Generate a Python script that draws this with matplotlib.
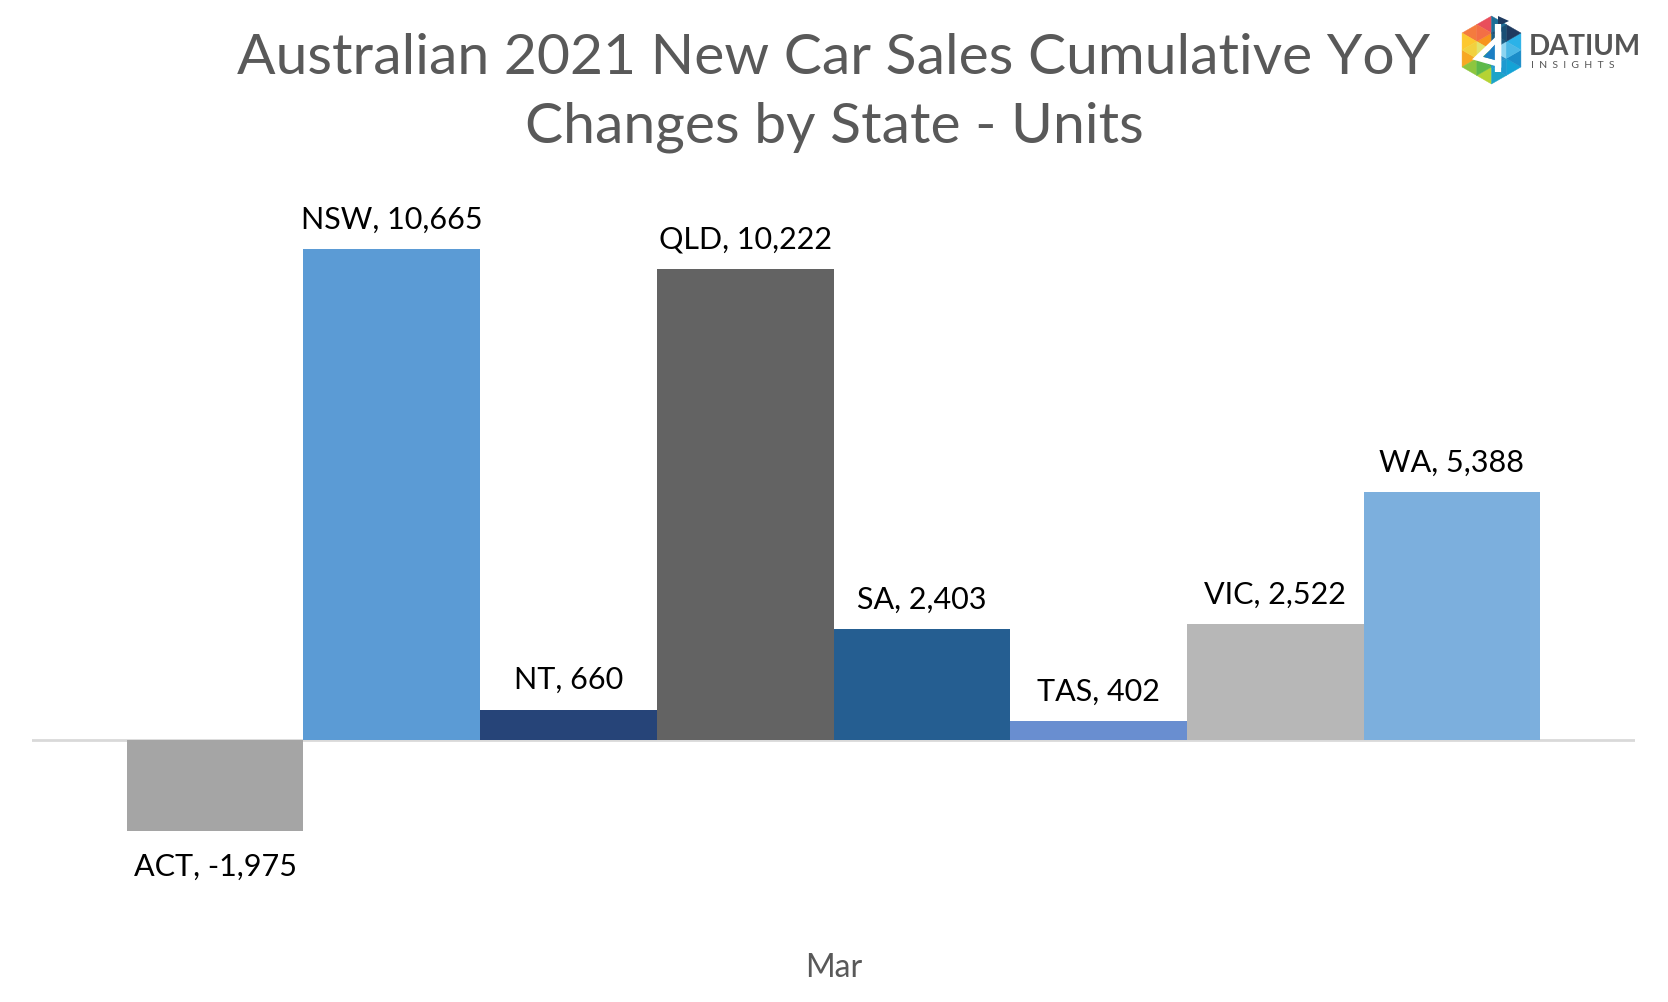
import matplotlib
matplotlib.use("Agg")
from matplotlib import pyplot as plt
from matplotlib.patches import Polygon
import numpy as np

# --- data ---
states = ["ACT", "NSW", "NT", "QLD", "SA", "TAS", "VIC", "WA"]
changes = [-1975, 10665, 660, 10222, 2403, 402, 2522, 5388]
category = "Mar"
colores = ["#A5A5A5", "#5B9BD5", "#264478", "#636363",
           "#255E91", "#698ED0", "#B7B7B7", "#7CAFDD"]

plt.rcParams['font.family'] = ['Lato', 'DejaVu Sans']

W, H = 1668, 1003
fig = plt.figure(figsize=(W / 100, H / 100), dpi=100)

# chart area in pixel terms
top_px, bot_px = 180, 900
base_px = 741
px_per_unit = 491 / 10665
ymax = (base_px - top_px) / px_per_unit
ymin = -(bot_px - base_px) / px_per_unit

ax = fig.add_axes([32 / W, 1 - bot_px / H, 1603 / W, (bot_px - top_px) / H])
x = np.arange(len(states))
ax.bar(x, changes, width=1.0, color=colores, edgecolor="none", zorder=2)
ax.axhline(0, color="#D9D9D9", linewidth=2, zorder=1)
ax.set_xlim(-1.036, len(states) - 1 + 1.036)
ax.set_ylim(ymin, ymax)
ax.axis("off")

for xi, s, v in zip(x, states, changes):
    lab = f"{s}, {v:,}"
    if v >= 0:
        ax.annotate(lab, (xi, v), xytext=(0, 22), textcoords="offset points",
                    ha="center", va="center", fontsize=22, color="#000000")
    else:
        ax.annotate(lab, (xi, v), xytext=(0, -25), textcoords="offset points",
                    ha="center", va="center", fontsize=22, color="#000000")

fig.text(834 / W, 1 - 968 / H, category, ha="center", va="center",
         fontsize=23, color="#595959")

fig.text(834 / W, 1 - 59 / H, "Australian 2021 New Car Sales Cumulative YoY",
         ha="center", va="center", fontsize=41, color="#595959")
fig.text(834 / W, 1 - 127 / H, "Changes by State - Units",
         ha="center", va="center", fontsize=41, color="#595959")

# --- logo ---
lg = fig.add_axes([0, 0, 1, 1], zorder=5)
lg.set_xlim(0, W)
lg.set_ylim(H, 0)
lg.axis("off")
cx, cy, r = 1491.5, 51, 34
ang = np.deg2rad([-90, -150, -210, -270, -330, -30])  # y-down: top first
verts = [(cx + r * np.cos(a), cy + r * np.sin(a)) for a in ang]
sector_cols = [
    ["#E94E5B", "#F47B3E", "#F7941D", "#F36F45"],   # top-left
    ["#FDC82F", "#F7A823", "#E2E36B", "#F2D13E"],   # left
    ["#8DC63F", "#B5D334", "#3AAA5B", "#5DB94A"],   # bottom-left
    ["#1BA4C8", "#14A3D6", "#2C8FC6", "#1E9AD0"],   # bottom-right
    ["#1B8DC9", "#2BB2E8", "#8ED4F0", "#4BB8E6"],   # right
    ["#1F3A5F", "#1D6F98", "#1B5F85", "#1A4F75"],   # top-right
]
c = np.array([cx, cy])
for i in range(6):
    a = np.array(verts[i])
    b = np.array(verts[(i + 1) % 6])
    mab, mca, mcb = (a + b) / 2, (c + a) / 2, (c + b) / 2
    tris = [[a, mab, mca], [mab, b, mcb], [mca, mcb, c], [mca, mab, mcb]]
    for t, col in zip(tris, sector_cols[i]):
        lg.add_patch(Polygon(t, closed=True, facecolor=col, edgecolor=col, linewidth=0.3))
# white "d" shape
lg.plot([cx + 7, cx + 7], [cy - 26, cy + 22], color="white", linewidth=4.5, solid_capstyle="butt")
tri = [(cx + 7, cy - 12), (cx - 14, cy + 8), (cx + 7, cy + 14)]
lg.add_patch(Polygon(tri, closed=True, facecolor="none", edgecolor="white", linewidth=4))
lg.add_patch(Polygon([(cx + 4, cy - 6), (cx - 8, cy + 7), (cx + 4, cy + 10)], closed=True,
                     facecolor="#1B7FC4", edgecolor="none"))
lg.add_patch(Polygon([(1498, 17), (1509, 22), (1498, 27)], closed=True,
                     facecolor="#1F3A5F", edgecolor="none"))
lg.text(1529, 47, "DATIUM", ha="left", va="center", fontsize=20, fontweight="bold",
        color="#555555")
lg.text(1531, 65, "I  N  S  I  G  H  T  S", ha="left", va="center", fontsize=7.5,
        color="#555555")

fig.savefig("out.png", dpi=100, facecolor="white")
